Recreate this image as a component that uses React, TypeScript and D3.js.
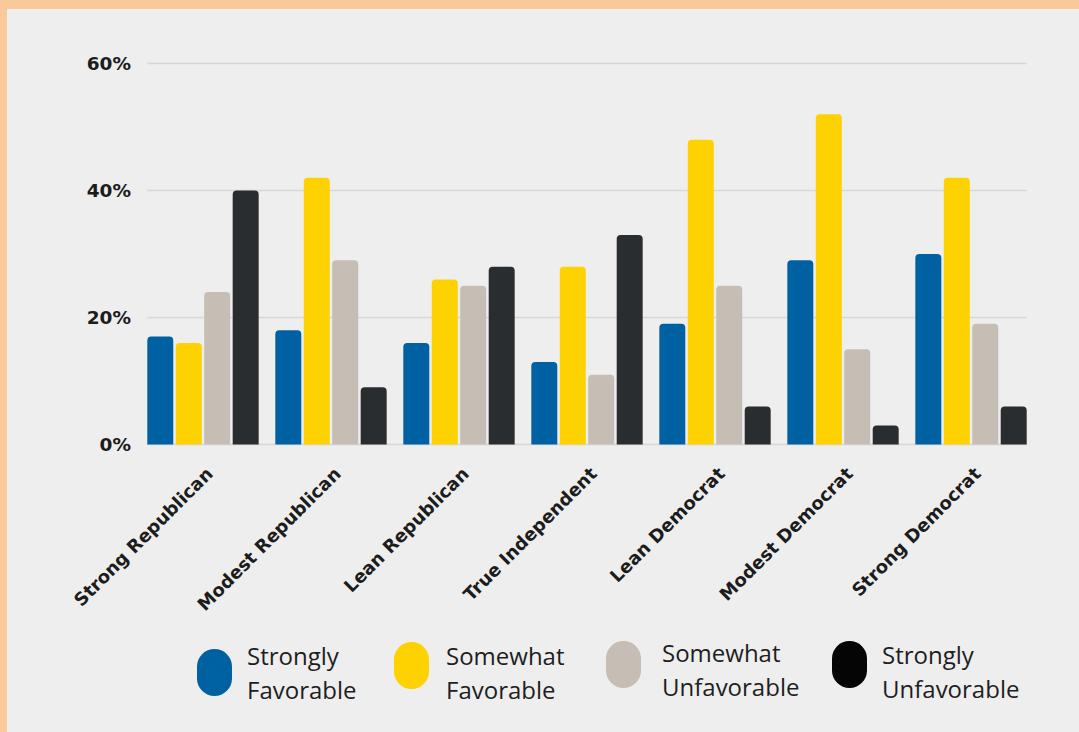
import React from 'react';
import * as d3 from 'd3';

const categories = [
  'Strong Republican',
  'Modest Republican',
  'Lean Republican',
  'True Independent',
  'Lean Democrat',
  'Modest Democrat',
  'Strong Democrat',
];
const seriesNames = ['Strongly Favorable', 'Somewhat Favorable', 'Somewhat Unfavorable', 'Strongly Unfavorable'];
const stronglyFavorable = [17, 18, 16, 13, 19, 29, 30];
const somewhatFavorable = [16, 42, 26, 28, 48, 52, 42];
const somewhatUnfavorable = [24, 29, 25, 11, 25, 15, 19];
const stronglyUnfavorable = [40, 9, 28, 33, 6, 3, 6];
const yTicks = [0, 20, 40, 60];
const legendLines = [
  ['Strongly', 'Favorable'],
  ['Somewhat', 'Favorable'],
  ['Somewhat', 'Unfavorable'],
  ['Strongly', 'Unfavorable'],
];

const barColors = ['#0061A2', '#FED100', '#C6BDB4', '#2A2D30'];
const legendColors = ['#0061A2', '#FED100', '#C6BDB4', '#050505'];

const W = 1079;
const H = 732;

function topRoundedBar(x: number, y: number, w: number, h: number, r: number) {
  const rr = Math.min(r, h / 2, w / 2);
  const p = d3.path();
  p.moveTo(x, y + h);
  p.lineTo(x, y + rr);
  p.arcTo(x, y, x + rr, y, rr);
  p.lineTo(x + w - rr, y);
  p.arcTo(x + w, y, x + w, y + rr, rr);
  p.lineTo(x + w, y + h);
  p.closePath();
  return p.toString();
}

export default function App() {
  const series = [stronglyFavorable, somewhatFavorable, somewhatUnfavorable, stronglyUnfavorable];
  const y = d3.scaleLinear().domain([0, 60]).range([444.5, 63.5]);
  const x0 = d3.scaleBand<string>().domain(categories).range([147.3, 1026.7]).paddingInner(0.13).paddingOuter(0);
  const x1 = d3.scaleBand<string>().domain(seriesNames).range([0, x0.bandwidth()]).paddingInner(0.087);

  const legendPillX = [197, 394, 606, 832];
  const legendPillY = [649, 642, 641, 641];
  const legendTextX = [247, 446, 662, 882];
  const legendBase = [665, 665, 662, 664];

  return (
    <svg width={W} height={H} style={{ position: 'absolute', left: 0, top: 0 }}>
      <rect x={0} y={0} width={W} height={H} fill="#EEEEEE" />
      <rect x={0} y={0} width={W} height={9} fill="#F9C99A" />
      <rect x={0} y={0} width={7} height={H} fill="#F9C99A" />

      {yTicks.map((t) => (
        <g key={t}>
          <line x1={147.3} x2={1026.7} y1={y(t)} y2={y(t)} stroke="#D7D7D7" strokeWidth={1.6} />
          <text
            x={131}
            y={y(t)}
            dy="0.36em"
            textAnchor="end"
            fontFamily="'DejaVu Sans', sans-serif"
            fontWeight={700}
            fontSize={18.5}
            fill="#1c1c1c"
          >
            {t}%
          </text>
        </g>
      ))}

      {categories.map((c, ci) => (
        <g key={c} transform={`translate(${x0(c)},0)`}>
          {seriesNames.map((s, si) => {
            const v = series[si][ci];
            const top = y(v);
            return (
              <path
                key={s}
                d={topRoundedBar(x1(s) as number, top, x1.bandwidth(), y(0) - top, 4)}
                fill={barColors[si]}
              />
            );
          })}
        </g>
      ))}

      {categories.map((c) => {
        const cx = (x0(c) as number) + x0.bandwidth() / 2;
        return (
          <text
            key={c}
            transform={`translate(${cx + 11},475) rotate(-45)`}
            textAnchor="end"
            fontFamily="'DejaVu Sans', sans-serif"
            fontWeight={700}
            fontSize={18}
            fill="#1c1c1c"
          >
            {c}
          </text>
        );
      })}

      {legendLines.map((lines, i) => (
        <g key={i}>
          <rect x={legendPillX[i]} y={legendPillY[i]} width={35} height={47} rx={17.5} ry={17.5} fill={legendColors[i]} />
          {lines.map((ln, li) => (
            <text
              key={li}
              x={legendTextX[i]}
              y={legendBase[i] + li * 34}
              fontFamily="'Open Sans', sans-serif"
              fontSize={24}
              fill="#1e1e1e"
            >
              {ln}
            </text>
          ))}
        </g>
      ))}
    </svg>
  );
}
